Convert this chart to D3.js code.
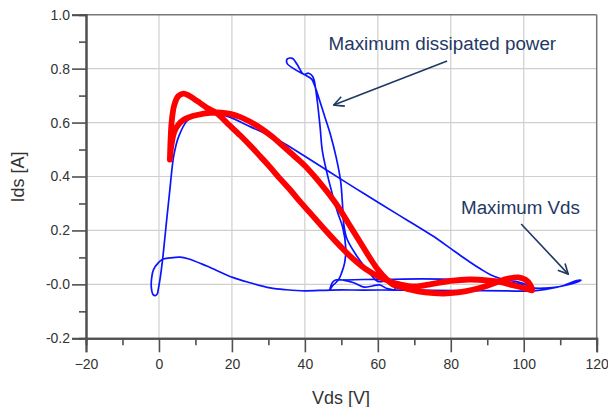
<!DOCTYPE html>
<html>
<head>
<meta charset="utf-8">
<script src="https://cdn.jsdelivr.net/npm/d3@7"></script>
<style>
  body { margin: 0; background: #fff; }
  text { font-family: "Liberation Sans", Arial, sans-serif; }
</style>
</head>
<body>
<svg id="chart" width="608" height="407"></svg>
<script>
// axis ticks
const xTicks = [-20, 0, 20, 40, 60, 80, 100, 120];
const yTicks = [-0.2, 0, 0.2, 0.4, 0.6, 0.8, 1.0];
const yTickLabels = ['-0.2', '-0.0', '0.2', '0.4', '0.6', '0.8', '1.0'];

// blue trace (Vds, Ids) - main loop
const blueLoop = [[-0.4,-0.035],[0.3,0.02],[1.0,0.093],[1.6,0.17],[2.2,0.25],[3.0,0.352],[3.5,0.42],[4.1,0.48],
  [5.3,0.544],[7.6,0.605],[10.4,0.63],[14,0.636],[18.6,0.624],[25,0.585],[33.3,0.531],[40,0.475],[47,0.415],
  [54,0.355],[60.8,0.298],[66,0.255],[70,0.222],[75,0.18],[81,0.123],[85,0.085],[88.3,0.056],[91,0.035],
  [94,0.02],[98,0.01],[100.5,0.0],[102,-0.012],[106,-0.014],[110,-0.008],[113.5,0.003],[115.7,0.015],
  [114.5,0.014],[111,-0.004],[106,-0.019],[102,-0.025],[95,-0.024],[85,-0.023],[75,-0.022],[66,-0.021],
  [56,-0.021],[47,-0.021],[40,-0.024],[35,-0.02],[30.5,-0.013],[25,0.006],[20.4,0.025],[13.1,0.068],
  [8,0.095],[5.8,0.101],[3,0.098],[1,0.093],[-0.2,0.08],[-1.5,0.055],[-2,0.024],[-2.1,-0.01],[-1.6,-0.038],
  [-1.0,-0.042],[-0.4,-0.035]];

// blue trace - tall spike with the loop on top
const blueSpike = [[46.8,-0.021],[47.6,-0.005],[48.4,0.005],[49.3,0.019],[50,0.04],[50.9,0.08],[51.2,0.136],
  [50.4,0.21],[48.9,0.27],[46.6,0.383],[44.8,0.494],[44.2,0.58],[43.4,0.68],[42.9,0.73],[42.6,0.754],
  [42.1,0.772],[41,0.783],[39.7,0.779],[37.9,0.815],[36.6,0.838],[35.2,0.836],[35.1,0.82],[36.9,0.80],
  [39.7,0.779],[41.8,0.762],[42.6,0.74],[43.8,0.692],[45.5,0.62],[47,0.556],[48.6,0.47],[49.8,0.383],
  [50.3,0.3],[50.7,0.22],[51.5,0.17],[54,0.11],[57,0.055],[59.9,0.012],[62,0.012],[64.2,0.012],
  [64.9,-0.005],[64.6,-0.019],[62.6,-0.016],[60.5,-0.002],[58.5,-0.006],[56.2,-0.01],[53.4,0.006],
  [50.5,0.016],[48.6,0.017],[47.6,0.008],[46.8,-0.021]];

// blue trace - upper flat return
const blueFlat = [[50.5,0.016],[56,0.018],[64.4,0.019],[72,0.02],[80,0.019],[88,0.017],[92,0.012],[96,0.008],[100,-0.002]];

// red trace (Vds, Ids)
const redLoop = [[3.0,0.463],[3.2,0.54],[3.5,0.605],[4.2,0.665],[5.3,0.698],[6.7,0.707],[8.2,0.70],[9.6,0.688],
  [11.3,0.672],[13.1,0.655],[15.9,0.634],[19,0.594],[22.3,0.552],[25,0.515],[27.8,0.474],[30.5,0.434],
  [33.3,0.39],[36,0.35],[38.8,0.305],[42.4,0.25],[46,0.195],[49.8,0.14],[53,0.097],[56.5,0.058],[60,0.03],
  [63,0.012],[66,0.0],[70,-0.008],[75,0.002],[80,0.013],[85,0.018],[90,0.015],[93.8,0.008],[97,-0.003],
  [100,-0.013],[102.3,-0.022],[101.8,-0.002],[100.5,0.017],[98.5,0.026],[96,0.022],[93,0.01],[90,-0.005],
  [86,-0.02],[82,-0.03],[78,-0.034],[73,-0.03],[69,-0.02],[66.5,-0.01],[64.5,-0.003],[62.5,0.018],[60,0.055],
  [57.5,0.105],[55,0.16],[52,0.225],[49,0.29],[46,0.345],[43,0.395],[40,0.44],[37,0.477],[34,0.513],
  [31,0.548],[28,0.578],[25,0.603],[22,0.622],[19.5,0.632],[17,0.637],[14,0.636],[10.4,0.628],[8.3,0.62],
  [6.7,0.61],[5.3,0.592],[4.2,0.565],[3.4,0.515],[3.0,0.463]];

// annotations: text anchor and arrow from/to, in data units
const noteTexts = ['Maximum dissipated power', 'Maximum Vds'];
const noteAt = [[46.5, 0.870], [82.8, 0.262]];
const arrowFrom = [[79.0, 0.828], [99.3, 0.224]];
const arrowTo = [[47.9, 0.665], [112.2, 0.038]];

const svg = d3.select('#chart');
const plotLeft = 86, plotRight = 596.7, plotTop = 14.7, plotBottom = 338.3;

const x = d3.scaleLinear().domain([-20, 120]).range([plotLeft, plotRight]);
const y = d3.scaleLinear().domain([-0.2, 1.0]).range([plotBottom, plotTop]);

// grid
svg.append('g').selectAll('line')
  .data(xTicks.slice(1, -1)).enter().append('line')
  .attr('x1', d => x(d)).attr('x2', d => x(d))
  .attr('y1', plotTop).attr('y2', plotBottom)
  .attr('stroke', '#cfcfcf').attr('stroke-width', 1.2);
svg.append('g').selectAll('line')
  .data(yTicks.slice(1, -1)).enter().append('line')
  .attr('x1', plotLeft).attr('x2', plotRight)
  .attr('y1', d => y(d)).attr('y2', d => y(d))
  .attr('stroke', '#cfcfcf').attr('stroke-width', 1.2);

// frame top / right
svg.append('line').attr('x1', plotLeft).attr('x2', plotRight).attr('y1', plotTop).attr('y2', plotTop)
  .attr('stroke', '#777').attr('stroke-width', 1.5);
svg.append('line').attr('x1', plotRight).attr('x2', plotRight).attr('y1', plotTop).attr('y2', plotBottom)
  .attr('stroke', '#777').attr('stroke-width', 1.5);

// axes
const xAxis = d3.axisBottom(x).tickValues(xTicks).tickSize(14).tickPadding(2).tickFormat(d3.format('d'));
const gx = svg.append('g').attr('transform', `translate(0,${plotBottom})`).call(xAxis);
const gxMinor = svg.append('g').attr('transform', `translate(0,${plotBottom})`)
  .call(d3.axisBottom(x).tickValues(d3.range(-10, 120, 20)).tickSize(7).tickFormat(''));

const yAxis = d3.axisLeft(y).tickValues(yTicks).tickSize(14).tickPadding(2)
  .tickFormat((d, i) => yTickLabels[i]);
const gy = svg.append('g').attr('transform', `translate(${plotLeft},0)`).call(yAxis);
const gyMinor = svg.append('g').attr('transform', `translate(${plotLeft},0)`)
  .call(d3.axisLeft(y).tickValues(d3.range(-0.1, 1.0, 0.2)).tickSize(7).tickFormat(''));

[gx, gy, gxMinor, gyMinor].forEach(g => {
  g.select('.domain').attr('stroke', '#505050').attr('stroke-width', 2);
  g.selectAll('.tick line').attr('stroke', '#505050').attr('stroke-width', 1.6);
  g.selectAll('.tick text').attr('fill', '#333').style('font-size', '14px')
    .style('font-family', '"Liberation Sans", Arial, sans-serif');
});
gx.selectAll('.tick text').attr('dy', '0.75em').attr('y', 20);

// axis titles
svg.append('text').attr('x', 341).attr('y', 404).attr('text-anchor', 'middle')
  .attr('fill', '#333').style('font-size', '18px').text('Vds [V]');
svg.append('text').attr('transform', 'translate(24,177) rotate(-90)').attr('text-anchor', 'middle')
  .attr('fill', '#333').style('font-size', '18px').text('Ids [A]');

// traces
const line = d3.line().x(d => x(d[0])).y(d => y(d[1])).curve(d3.curveCatmullRom.alpha(0.5));

[blueLoop, blueSpike, blueFlat].forEach(pts => {
  svg.append('path').datum(pts).attr('d', line)
    .attr('fill', 'none').attr('stroke', '#0a14ff').attr('stroke-width', 1.7)
    .attr('stroke-linejoin', 'round');
});

svg.append('path').datum(redLoop).attr('d', line)
  .attr('fill', 'none').attr('stroke', '#ff0000').attr('stroke-width', 5.8)
  .attr('stroke-linejoin', 'round').attr('stroke-linecap', 'round');

// annotations
const navy = '#1f3864';
svg.append('defs').append('marker')
  .attr('id', 'arrow').attr('viewBox', '0 0 12 12').attr('refX', 11).attr('refY', 6)
  .attr('markerWidth', 12).attr('markerHeight', 12).attr('markerUnits', 'userSpaceOnUse')
  .attr('orient', 'auto')
  .append('path').attr('d', 'M1,1 L11,6 L1,11').attr('fill', 'none')
  .attr('stroke', navy).attr('stroke-width', 1.6);

noteTexts.forEach((t, i) => {
  svg.append('text').attr('x', x(noteAt[i][0])).attr('y', y(noteAt[i][1]))
    .attr('fill', navy).style('font-size', '18.8px').text(t);
  svg.append('line')
    .attr('x1', x(arrowFrom[i][0])).attr('y1', y(arrowFrom[i][1]))
    .attr('x2', x(arrowTo[i][0])).attr('y2', y(arrowTo[i][1]))
    .attr('stroke', navy).attr('stroke-width', 1.6).attr('marker-end', 'url(#arrow)');
});
</script>
</body>
</html>
